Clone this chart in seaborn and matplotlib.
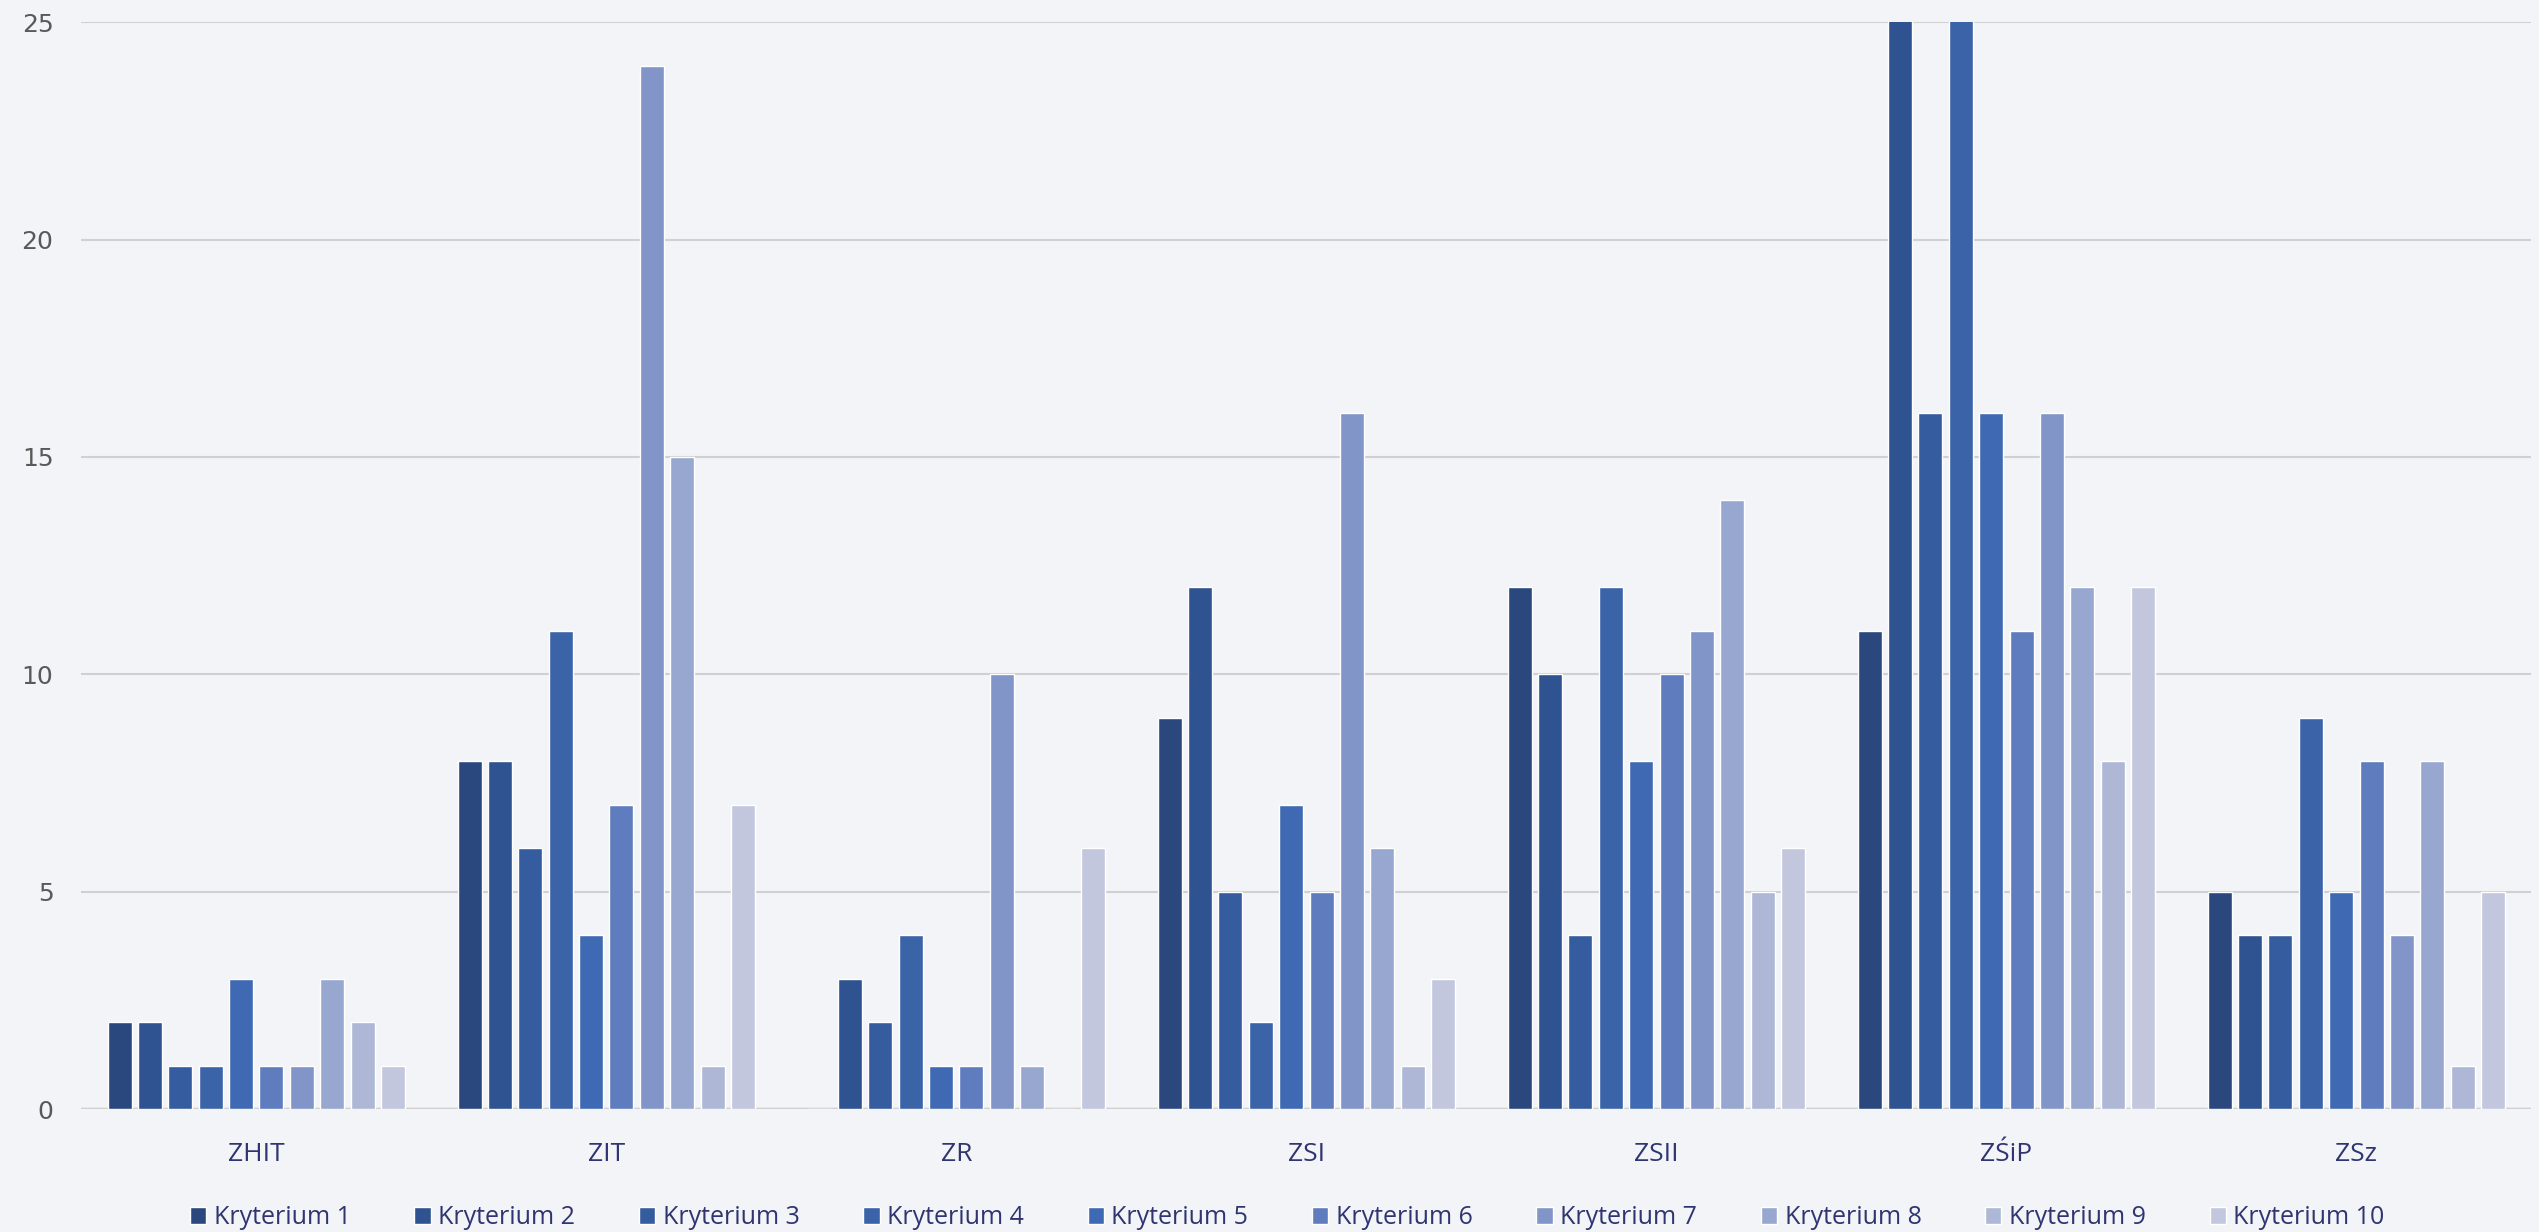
import pandas as pd
import matplotlib.pyplot as plt
import seaborn as sns

# data
schools = ["ZHIT", "ZIT", "ZR", "ZSI", "ZSII", "ZŚiP", "ZSz"]
criteria = [f"Kryterium {i}" for i in range(1, 11)]

zhit = [2, 2, 1, 1, 3, 1, 1, 3, 2, 1]
zit = [8, 8, 6, 11, 4, 7, 24, 15, 1, 7]
zr = [0, 3, 2, 4, 1, 1, 10, 1, 0, 6]
zsi = [9, 12, 5, 2, 7, 5, 16, 6, 1, 3]
zsii = [12, 10, 4, 12, 8, 10, 11, 14, 5, 6]
zsip = [11, 27, 16, 27, 16, 11, 16, 12, 8, 12]  # two bars run past the axis top
zsz = [5, 4, 4, 9, 5, 8, 4, 8, 1, 5]

colors = ["#2A487E", "#2F5390", "#355C9F", "#3A63A8", "#3F6AB3",
          "#5E7CBE", "#8295C8", "#98A7CF", "#AEB7D5", "#C2C7DD"]

rows = []
for school, vals in zip(schools, [zhit, zit, zr, zsi, zsii, zsip, zsz]):
    for crit, v in zip(criteria, vals):
        rows.append({"Szkoła": school, "Kryterium": crit, "Liczba": v})
df = pd.DataFrame(rows)

sns.set_style("white")
plt.rcParams['font.family'] = ['Open Sans', 'DejaVu Sans']

bg = "#F3F4F7"
fig = plt.figure(figsize=(25.39, 12.32), dpi=100, facecolor=bg)
ax = fig.add_axes([0.032, 0.0998, 0.965, 0.8822])
ax.set_facecolor(bg)

sns.barplot(data=df, x="Szkoła", y="Liczba", hue="Kryterium", palette=colors,
            saturation=1, width=0.868, gap=0.21, ax=ax, legend=True)

ax.set_xlim(-0.5, 6.5)
ax.set_ylim(0, 25)
ax.set_yticks([0, 5, 10, 15, 20, 25])
ax.yaxis.grid(True, color="#D0D0D0", linewidth=1.5)
ax.set_axisbelow(True)
for s in ax.spines.values():
    s.set_visible(False)
ax.axhline(0, color="#CCCCCC", linewidth=2.5, zorder=0.5)
ax.set_xlabel("")
ax.set_ylabel("")
ax.tick_params(axis="y", length=0, labelsize=18, labelcolor="#595959", pad=20)
for t in ax.get_yticklabels():
    t.set_family(['DejaVu Sans'])
ax.tick_params(axis="x", length=0, labelsize=19, labelcolor="#2E3570", pad=24)

handles, labels = ax.get_legend_handles_labels()
ax.get_legend().remove()
fig.legend(handles, labels, loc="lower center", bbox_to_anchor=(0.507, -0.017),
           ncol=10, frameon=False, fontsize=18, handlelength=0.65, handleheight=0.65,
           handletextpad=0.3, columnspacing=2.55, labelcolor="#2E3570")

fig.savefig("out.png", dpi=100, facecolor=bg)
